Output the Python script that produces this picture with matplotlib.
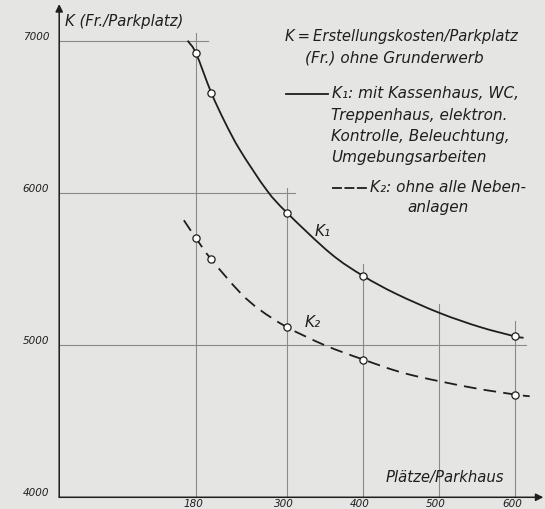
import matplotlib
matplotlib.use("Agg")
import matplotlib.pyplot as plt
import numpy as np
from matplotlib.path import Path
from matplotlib.patches import PathPatch

# ---- data ----
x_ticks = [180, 300, 400, 500, 600]
y_ticks = [4000, 5000, 6000, 7000]

# measured points (circles)
k1_x = [180, 200, 300, 400, 600]
k1_y = [6917, 6659, 5868, 5454, 5057]
k2_x = [180, 200, 300, 400, 600]
k2_y = [5702, 5563, 5117, 4905, 4675]

# traced curve positions
k1_trace_x = [169, 180, 200, 218, 238, 273, 300, 357, 400, 444, 501, 554, 600, 611]
k1_trace_y = [7000, 6917, 6659, 6465, 6280, 6018, 5868, 5602, 5454, 5335, 5210, 5118, 5057, 5048]
k2_trace_x = [164, 180, 200, 238, 264, 300, 350, 400, 458, 541, 600, 619]
k2_trace_y = [5820, 5702, 5563, 5345, 5232, 5117, 4998, 4905, 4810, 4722, 4675, 4664]

# grid segments: horizontal (value, x end) and vertical (x, value top)
h_grid = [(7000, 196), (6000, 310), (5000, 614)]
v_grid = [(180, 7050), (300, 6030), (400, 5532), (500, 5267), (600, 5156)]

bg = "#e5e5e3"
ink = "#1e1e1e"
grid_c = "#8a8a8a"

fig = plt.figure(figsize=(5.45, 5.09), dpi=100, facecolor=bg)
ax = fig.add_axes([0, 0, 1, 1])
ax.set_facecolor(bg)
ax.set_xlim(-77.9, 639.2)
ax.set_ylim(3923, 7267)
ax.axis("off")

font = dict(family="DejaVu Sans", style="italic", color=ink)


def smooth_path(xs, ys):
    """Catmull-Rom through the traced points, drawn as cubic Bezier segments."""
    p = np.column_stack([xs, ys]).astype(float)
    s = np.array([0.76, 0.1522])
    q = p * s
    ext = np.vstack([2 * q[0] - q[1], q, 2 * q[-1] - q[-2]])
    verts = [q[0]]
    codes = [Path.MOVETO]
    for i in range(1, len(ext) - 2):
        c1 = ext[i] + (ext[i + 1] - ext[i - 1]) / 6.0
        c2 = ext[i + 1] - (ext[i + 2] - ext[i]) / 6.0
        verts += [c1, c2, ext[i + 1]]
        codes += [Path.CURVE4] * 3
    verts = np.array(verts) / s
    return Path(verts, codes)


# grid
for v, xe in h_grid:
    ax.plot([0, xe], [v, v], color=grid_c, lw=0.8, zorder=1)
for xv, vt in v_grid:
    ax.plot([xv, xv], [4000, vt], color=grid_c, lw=0.8, zorder=1)

# axes with arrows
ax.annotate("", xy=(637, 4000), xytext=(0, 4000),
            arrowprops=dict(arrowstyle="-|>", lw=1.1, color=ink, mutation_scale=11,
                            shrinkA=0, shrinkB=0), zorder=3)
ax.annotate("", xy=(0, 7240), xytext=(0, 4000),
            arrowprops=dict(arrowstyle="-|>", lw=1.1, color=ink, mutation_scale=11,
                            shrinkA=0, shrinkB=0), zorder=3)

# tick labels
for v in y_ticks:
    ax.text(-13, v + 25, str(v), ha="right", va="center", fontsize=7.5, **font)
for xv in x_ticks:
    ax.text(xv - 4, 3937, str(xv), ha="center", va="baseline", fontsize=7.5, **font)

ax.text(7.6, 7125, "K (Fr./Parkplatz)", ha="left", va="center", fontsize=10.7, **font)
ax.text(429, 4133, "Plätze/Parkhaus", ha="left", va="center", fontsize=10.7, **font)

# curves
ax.add_patch(PathPatch(smooth_path(k1_trace_x, k1_trace_y), fill=False,
                       edgecolor=ink, lw=1.3, zorder=4))
ax.add_patch(PathPatch(smooth_path(k2_trace_x, k2_trace_y), fill=False,
                       edgecolor=ink, lw=1.3, zorder=4, linestyle=(0, (7, 4))))
ax.plot(k1_x, k1_y, "o", ms=5.2, mfc="white", mec=ink, mew=0.9, zorder=5)
ax.plot(k2_x, k2_y, "o", ms=5.2, mfc="white", mec=ink, mew=0.9, zorder=5)

# annotations
fs = 11
ax.text(297, 7024, "K\u2009=\u2009Erstellungskosten/Parkplatz", ha="left", va="center", fontsize=10.6, **font)
ax.text(323, 6886, "(Fr.) ohne Grunderwerb", ha="left", va="center", fontsize=fs, **font)
ax.plot([298.4, 353.7], [6650, 6650], color=ink, lw=1.3)
ax.text(359, 6656, "K₁: mit Kassenhaus, WC,", ha="left", va="center", fontsize=fs, **font)
ax.text(358, 6511, "Treppenhaus, elektron.", ha="left", va="center", fontsize=fs, **font)
ax.text(358, 6367, "Kontrolle, Beleuchtung,", ha="left", va="center", fontsize=fs, **font)
ax.text(358, 6229, "Umgebungsarbeiten", ha="left", va="center", fontsize=fs, **font)
ax.plot([359, 405], [6032, 6032], color=ink, lw=1.3, linestyle=(0, (5.5, 1.4)))
ax.text(409, 6032, "K₂: ohne alle Neben-", ha="left", va="center", fontsize=fs, **font)
ax.text(458, 5907, "anlagen", ha="left", va="center", fontsize=fs, **font)
ax.text(346, 5743, "K₁", ha="center", va="center", fontsize=fs, **font)
ax.text(333, 5145, "K₂", ha="center", va="center", fontsize=fs, **font)

fig.savefig("out.png", dpi=100, facecolor=bg)
